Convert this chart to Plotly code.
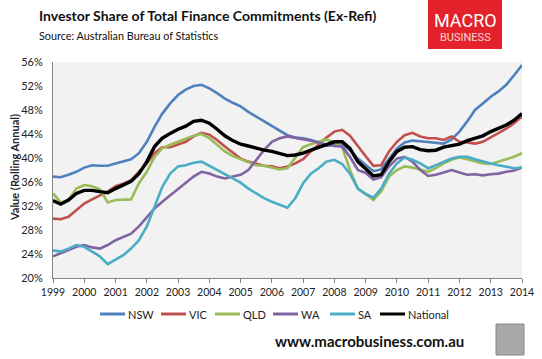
import pandas as pd
import plotly.graph_objects as go

dates = pd.date_range("1999-01-01", "2014-01-01", freq="QS")

nsw = [36.9, 36.8, 37.2, 37.7,
       38.4, 38.8, 38.7, 38.7,
       39.1, 39.4, 39.8, 40.8,
       42.7, 45.2, 47.4, 49.1,
       50.5, 51.4, 52.0, 52.2,
       51.6, 50.8, 49.9, 49.2,
       48.6, 47.7, 46.9, 46.1,
       45.3, 44.6, 43.8, 43.4,
       43.3, 43.0, 42.6, 42.0,
       42.2, 42.2, 41.3, 39.9,
       38.8, 37.8, 38.1, 39.9,
       41.6, 42.6, 42.9, 42.8,
       42.7, 42.6, 42.4, 43.1,
       44.4, 46.1, 48.0, 49.1,
       50.2, 51.1, 52.2, 53.8,
       55.5]
vic = [29.9, 29.8, 30.2, 31.3,
       32.4, 33.1, 33.8, 34.4,
       35.3, 35.7, 36.3, 37.7,
       39.1, 40.8, 41.8, 41.8,
       42.2, 42.7, 43.6, 44.2,
       43.9, 43.0, 41.9, 40.9,
       39.9, 39.4, 39.0, 38.7,
       38.6, 38.3, 38.6, 39.1,
       39.8, 41.1, 42.2, 43.4,
       44.4, 44.7, 43.7, 41.9,
       40.3, 38.7, 38.8, 41.1,
       42.7, 43.8, 44.2, 43.6,
       43.3, 43.3, 43.0, 43.6,
       42.7, 42.6, 42.4, 42.7,
       43.4, 44.1, 44.9, 45.8,
       46.9]
qld = [34.1, 32.6, 33.0, 34.9,
       35.5, 35.3, 34.8, 32.6,
       33.0, 33.0, 33.1, 35.8,
       37.7, 40.2, 41.6, 42.2,
       42.7, 43.3, 43.7, 44.0,
       43.3, 42.2, 41.1, 40.3,
       39.8, 39.2, 38.8, 38.7,
       38.4, 38.1, 38.3, 40.0,
       41.8, 42.3, 42.7, 43.1,
       42.6, 41.8, 38.0, 34.9,
       34.0, 33.0, 34.4, 36.9,
       38.0, 38.6, 38.4, 38.0,
       37.7, 38.3, 39.1, 39.7,
       40.1, 39.8, 39.4, 39.1,
       39.0, 39.4, 39.8, 40.2,
       40.8]
wa = [23.6, 24.1, 24.7, 25.2,
      25.5, 25.1, 24.9, 25.5,
      26.3, 26.9, 27.4, 28.6,
      30.2, 31.6, 32.7, 33.8,
      34.9, 35.9, 36.9, 37.7,
      37.4, 36.9, 36.6, 36.9,
      37.2, 38.0, 39.7, 41.3,
      42.7, 43.3, 43.6, 43.4,
      43.1, 42.9, 42.6, 42.2,
      42.0, 41.9, 40.2, 38.0,
      37.5, 36.4, 36.8, 38.6,
      39.9, 40.2, 39.4, 38.0,
      37.0, 37.2, 37.6, 38.0,
      37.6, 37.2, 37.3, 37.1,
      37.3, 37.4, 37.7, 37.9,
      38.4]
sa = [24.6, 24.4, 24.9, 25.5,
      25.2, 24.4, 23.6, 22.3,
      23.1, 23.8, 24.9, 26.3,
      28.6, 31.9, 35.2, 37.4,
      38.6, 38.8, 39.2, 39.4,
      38.7, 38.0, 37.2, 36.6,
      35.9, 34.9, 34.1, 33.3,
      32.7, 32.2, 31.7, 33.3,
      35.8, 37.4, 38.3, 39.4,
      39.7, 39.0, 37.4, 34.9,
      34.0, 33.4, 34.9, 37.4,
      39.1, 40.1, 39.7, 39.1,
      38.3, 38.8, 39.4, 39.9,
      40.2, 40.2, 39.8, 39.4,
      39.1, 38.8, 38.6, 38.3,
      38.4]
national = [32.9, 32.3, 33.0, 34.1,
            34.6, 34.6, 34.4, 34.2,
            34.9, 35.5, 36.1, 37.4,
            39.4, 41.9, 43.3, 44.1,
            44.8, 45.3, 46.1, 46.3,
            45.8, 44.8, 43.7, 42.9,
            42.3, 42.0, 41.6, 41.3,
            41.1, 40.8, 40.4, 40.5,
            40.8, 41.3, 41.8, 42.2,
            42.7, 42.7, 41.6, 39.4,
            38.2, 37.0, 37.2, 39.4,
            41.1, 41.8, 41.9, 41.4,
            41.2, 41.3, 41.8, 42.0,
            42.3, 42.9, 43.3, 43.7,
            44.4, 44.9, 45.5, 46.3,
            47.4]

series = [("NSW", nsw, "#4F81BD", 2.6),
          ("VIC", vic, "#C0504D", 2.6),
          ("QLD", qld, "#9BBB59", 2.6),
          ("WA", wa, "#8064A2", 2.6),
          ("SA", sa, "#4BACC6", 2.6),
          ("National", national, "#000000", 3.4)]

# legend entry left positions (px)
legend_x = [100, 161, 215, 273, 330, 380]

W, H = 542, 359
L, R, T, B = 53, 20, 62, 81
PW, PH = W - L - R, H - T - B

def px(x):
    return (x - L) / PW

def py(y):
    return (H - B - y) / PH

fig = go.Figure()
for name, vals, col, w in series:
    fig.add_trace(go.Scatter(x=dates, y=vals, name=name, mode="lines",
                             line=dict(color=col, width=w), showlegend=False))

FONT = "Lato"
fig.update_layout(
    width=W, height=H,
    margin=dict(l=L, r=R, t=T, b=B, autoexpand=False),
    paper_bgcolor="white", plot_bgcolor="#F2F2F2",
    font=dict(family=FONT, size=11, color="#222"),
    xaxis=dict(type="date", range=["1999-01-01", "2014-01-01"], dtick="M12",
               tickformat="%Y", showgrid=False, zeroline=False,
               showline=True, linecolor="#868686", linewidth=1,
               ticks="outside", ticklen=4, tickcolor="#868686",
               tickfont=dict(size=10.5, color="#222")),
    yaxis=dict(range=[20, 56], dtick=4, tick0=20, ticksuffix="%",
               showgrid=False, zeroline=False, showline=True,
               linecolor="#868686", linewidth=1, ticks="",
               ticklabelstandoff=7,
               tickfont=dict(size=11, color="#222")),
)

ann = []
shapes = []
ann.append(dict(x=px(37), y=py(16), xref="paper", yref="paper", xanchor="left", yanchor="middle",
                text="<b>Investor Share of Total Finance Commitments (Ex-Refi)</b>",
                showarrow=False, font=dict(family=FONT, size=14, color="#111")))
ann.append(dict(x=px(37), y=py(35), xref="paper", yref="paper", xanchor="left", yanchor="middle",
                text="Source: Australian Bureau of Statistics",
                showarrow=False, font=dict(family=FONT, size=10.8, color="#111")))
ann.append(dict(x=px(14), y=py(168), xref="paper", yref="paper", xanchor="center", yanchor="middle",
                text="<b>Value (Rolling Annual)</b>", textangle=-90,
                showarrow=False, font=dict(family=FONT, size=11, color="#222")))
ann.append(dict(x=px(369), y=py(341), xref="paper", yref="paper", xanchor="center", yanchor="middle",
                text="<b>www.macrobusiness.com.au</b>",
                showarrow=False, font=dict(family=FONT, size=15, color="#111")))
ann.append(dict(x=px(465), y=py(20), xref="paper", yref="paper", xanchor="center", yanchor="middle",
                text="MACRO", showarrow=False,
                font=dict(family="Roboto", size=18, color="white")))
ann.append(dict(x=px(465), y=py(38), xref="paper", yref="paper", xanchor="center", yanchor="middle",
                text="BUSINESS", showarrow=False,
                font=dict(family="Roboto", size=11, color="#FBD5D5")))

# custom compact legend
for (name, vals, col, w), lx in zip(series, legend_x):
    shapes.append(dict(type="line", xref="paper", yref="paper",
                       x0=px(lx), x1=px(lx + 25), y0=py(314), y1=py(314),
                       line=dict(color=col, width=3)))
    ann.append(dict(x=px(lx + 26), y=py(314), xref="paper", yref="paper",
                    xanchor="left", yanchor="middle", text=name, showarrow=False,
                    font=dict(family=FONT, size=11, color="#222")))

shapes.append(dict(type="rect", xref="paper", yref="paper",
                   x0=px(428), x1=px(502), y0=py(49), y1=py(0),
                   fillcolor="#E3222B", line=dict(width=0), layer="above"))
shapes.append(dict(type="rect", xref="paper", yref="paper",
                   x0=px(496), x1=px(524), y0=py(355), y1=py(324),
                   fillcolor="#A9A9A9", line=dict(color="#888", width=1), layer="above"))
fig.update_layout(annotations=ann, shapes=shapes)

fig.write_html("out.html", config={"displayModeBar": False},
               post_script="document.body.style.margin='0';")
